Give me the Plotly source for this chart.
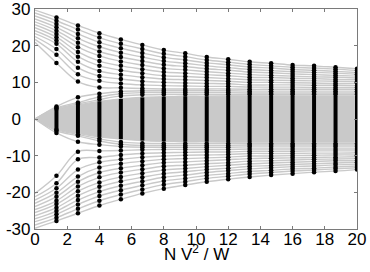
import plotly.graph_objects as go

# x positions of the computed spectra (N V^2 / W)
xs = [0, 1.333, 2.667, 4, 5.333, 6.667, 8, 9.333, 10.667, 12, 13.333, 14.667, 16, 17.333, 18.667, 20]

# outer levels above the central band (outermost first)
upper_levels = [
    [29.7, 27.7, 25.5, 23.4, 21.7, 20.2, 18.8, 17.9, 16.9, 16.3, 15.6, 15.2, 14.7, 14.5, 14.1, 13.7],
    [28.9, 26.8, 24.4, 22.2, 20.5, 19.1, 17.8, 17.0, 16.1, 15.5, 14.9, 14.5, 14.1, 13.9, 13.6, 13.2],
    [28.1, 25.9, 23.2, 20.9, 19.3, 18.0, 16.8, 16.1, 15.3, 14.8, 14.2, 13.9, 13.5, 13.3, 13.0, 12.7],
    [27.3, 25.0, 22.0, 19.7, 18.1, 16.9, 15.8, 15.2, 14.5, 14.0, 13.5, 13.2, 12.9, 12.7, 12.5, 12.2],
    [26.5, 24.1, 20.8, 18.4, 16.9, 15.8, 14.8, 14.3, 13.7, 13.3, 12.8, 12.6, 12.3, 12.1, 11.9, 11.7],
    [25.7, 23.2, 19.6, 17.2, 15.7, 14.7, 13.8, 13.4, 12.9, 12.5, 12.1, 11.9, 11.7, 11.5, 11.4, 11.2],
    [24.9, 22.3, 18.3, 15.8, 14.5, 13.6, 12.8, 12.5, 12.1, 11.8, 11.4, 11.3, 11.1, 11.0, 10.8, 10.7],
    [24.1, 21.4, 17.0, 14.5, 13.3, 12.5, 11.8, 11.6, 11.3, 11.0, 10.7, 10.6, 10.5, 10.4, 10.3, 10.2],
    [23.3, 20.5, 15.6, 13.1, 12.1, 11.4, 10.9, 10.7, 10.5, 10.3, 10.0, 10.0, 9.9, 9.8, 9.7, 9.7],
    [22.5, 19.1, 14.0, 11.7, 10.9, 10.3, 10.0, 9.8, 9.7, 9.6, 9.3, 9.3, 9.3, 9.2, 9.2, 9.1],
    [21.7, 17.5, 12.2, 10.4, 9.7, 9.3, 9.1, 9.0, 8.9, 8.9, 8.7, 8.7, 8.7, 8.6, 8.6, 8.6],
    [20.9, 15.3, 10.2, 8.6, 8.5, 8.3, 8.2, 8.2, 8.2, 8.2, 8.1, 8.1, 8.1, 8.1, 8.1, 8.1],
]

# outer levels below the central band (outermost first)
lower_levels = [
    [-29.8, -27.8, -25.7, -23.6, -21.9, -20.3, -19.0, -18.0, -17.1, -16.4, -15.8, -15.3, -14.9, -14.5, -14.2, -13.8],
    [-28.9, -26.9, -24.5, -22.3, -20.6, -19.2, -17.9, -17.1, -16.2, -15.6, -15.0, -14.6, -14.2, -13.9, -13.6, -13.3],
    [-28.0, -26.0, -23.3, -21.0, -19.4, -18.1, -16.9, -16.2, -15.4, -14.9, -14.3, -14.0, -13.6, -13.4, -13.1, -12.8],
    [-27.2, -25.1, -22.1, -19.8, -18.2, -17.0, -15.9, -15.3, -14.6, -14.1, -13.6, -13.3, -13.0, -12.8, -12.5, -12.3],
    [-26.4, -24.2, -20.9, -18.5, -17.0, -15.9, -14.9, -14.4, -13.8, -13.4, -12.9, -12.7, -12.4, -12.2, -12.0, -11.8],
    [-25.5, -23.2, -19.7, -17.3, -15.8, -14.8, -13.9, -13.5, -13.0, -12.6, -12.2, -12.0, -11.8, -11.6, -11.4, -11.3],
    [-24.7, -22.3, -18.4, -15.9, -14.6, -13.7, -12.9, -12.6, -12.2, -11.9, -11.5, -11.4, -11.2, -11.0, -10.9, -10.8],
    [-23.9, -21.2, -17.1, -14.6, -13.4, -12.6, -11.9, -11.7, -11.4, -11.1, -10.8, -10.7, -10.6, -10.5, -10.4, -10.3],
    [-23.0, -20.1, -15.7, -13.2, -12.2, -11.5, -11.0, -10.8, -10.6, -10.4, -10.1, -10.1, -10.0, -9.9, -9.8, -9.8],
    [-22.1, -18.9, -13.8, -11.8, -11.0, -10.4, -10.1, -9.9, -9.8, -9.7, -9.4, -9.4, -9.4, -9.3, -9.3, -9.2],
    [-21.2, -17.5, -11.0, -10.5, -9.8, -9.4, -9.2, -9.1, -9.0, -9.0, -8.8, -8.8, -8.8, -8.7, -8.7, -8.7],
    [-20.3, -15.5, -8.9, -8.7, -8.6, -8.4, -8.3, -8.3, -8.3, -8.3, -8.2, -8.2, -8.2, -8.2, -8.2, -8.2],
]

# band-edge levels that separate from the dense central band
upper_rising = [
    [0, 3.4, 5.9, 6.9, 7.5, 7.7, 7.7, 7.7, 7.7, 7.7, 7.6, 7.6, 7.6, 7.6, 7.6, 7.6],
    [0, 3.0, 4.5, 6.0, 6.9, 7.2, 7.2, 7.2, 7.2, 7.2, 7.1, 7.1, 7.1, 7.1, 7.1, 7.1],
    [0, 2.8, 4.1, 5.3, 6.3, 6.6, 6.7, 6.7, 6.7, 6.7, 6.7, 6.7, 6.7, 6.7, 6.7, 6.7],
]
lower_rising = [
    [0, -3.8, -6.2, -7.0, -7.5, -7.7, -7.7, -7.7, -7.7, -7.7, -7.6, -7.6, -7.6, -7.6, -7.6, -7.6],
    [0, -3.2, -4.6, -6.0, -6.9, -7.2, -7.2, -7.2, -7.2, -7.2, -7.1, -7.1, -7.1, -7.1, -7.1, -7.1],
    [0, -2.9, -4.2, -5.4, -6.3, -6.6, -6.7, -6.7, -6.7, -6.7, -6.7, -6.7, -6.7, -6.7, -6.7, -6.7],
]

# edges of the dense central band of levels
band_top = [0, 2.6, 3.8, 4.8, 5.5, 5.9, 6.1, 6.2, 6.2, 6.3, 6.3, 6.3, 6.3, 6.3, 6.3, 6.3]
band_bottom = [0, -2.7, -3.9, -4.9, -5.5, -5.9, -6.1, -6.2, -6.2, -6.3, -6.3, -6.3, -6.3, -6.3, -6.3, -6.3]

x_ticks = [0, 2, 4, 6, 8, 10, 12, 14, 16, 18, 20]
y_ticks = [-30, -20, -10, 0, 10, 20, 30]
y_ticktext = ["-30", "-20", "-10", "0\u00a0\u00a0", "10", "20", "30"]
x_title = "N V<sup>2</sup> / W"

GRAY = "#c9c9c9"
AXIS = "#7a7a7a"
FONT = "Liberation Sans, Arial, Helvetica, sans-serif"

fig = go.Figure()

# dense central band
fig.add_trace(go.Scatter(x=xs, y=band_bottom, mode="lines",
                         line=dict(color=GRAY, width=1.3, shape="spline"), hoverinfo="skip"))
fig.add_trace(go.Scatter(x=xs, y=band_top, mode="lines", fill="tonexty", fillcolor=GRAY,
                         line=dict(color=GRAY, width=1.3, shape="spline"), hoverinfo="skip"))

# individual level curves
for lv in upper_levels + lower_levels + upper_rising + lower_rising:
    fig.add_trace(go.Scatter(x=xs, y=lv, mode="lines",
                             line=dict(color=GRAY, width=1.4, shape="spline"), hoverinfo="skip"))

# dense black columns where the band's points overlap
bx, by = [], []
for x, lo, hi in zip(xs[1:], band_bottom[1:], band_top[1:]):
    bx += [x, x, None]
    by += [lo, hi, None]
fig.add_trace(go.Scatter(x=bx, y=by, mode="lines", line=dict(color="black", width=4),
                         hoverinfo="skip"))

# computed points
dx, dy = [], []
for lv in upper_levels + lower_levels + upper_rising + lower_rising:
    dx += xs[1:]
    dy += lv[1:]
fig.add_trace(go.Scatter(x=dx, y=dy, mode="markers",
                         marker=dict(color="black", size=4.5, line=dict(width=0))))

axis_common = dict(showline=True, linecolor=AXIS, linewidth=1.2, mirror="ticks",
                   ticks="inside", ticklen=3, tickcolor=AXIS, tickwidth=1,
                   showgrid=False, zeroline=False, automargin=False,
                   ticklabeloverflow="allow",
                   tickfont=dict(family=FONT, size=17, color="black"))

fig.update_layout(
    width=370, height=272,
    margin=dict(l=35, r=13, t=9, b=43),
    paper_bgcolor="white", plot_bgcolor="white",
    showlegend=False,
    xaxis=dict(range=[0, 20], tickvals=x_ticks, ticklabelstandoff=-6, **axis_common),
    yaxis=dict(range=[-30, 30], tickvals=y_ticks, ticktext=y_ticktext, **axis_common),
    annotations=[dict(text=x_title, xref="paper", yref="paper", x=0.5, y=-0.11,
                      xanchor="center", yanchor="middle", showarrow=False,
                      font=dict(family=FONT, size=17, color="black"))],
)

fig.write_html("out.html", config={"displayModeBar": False},
               post_script="document.body.style.margin='0';")
